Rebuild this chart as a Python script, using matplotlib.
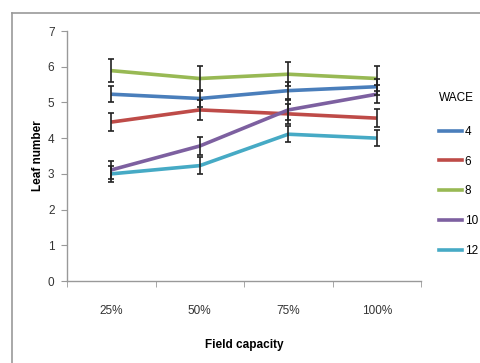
import matplotlib
matplotlib.use("Agg")
import matplotlib.pyplot as plt
from matplotlib.lines import Line2D

categories = ["25%", "50%", "75%", "100%"]
series_names = ["4", "6", "8", "10", "12"]
wace4 = [5.23, 5.11, 5.33, 5.44]
wace6 = [4.45, 4.79, 4.68, 4.56]
wace8 = [5.89, 5.67, 5.79, 5.67]
wace10 = [3.11, 3.78, 4.79, 5.23]
wace12 = [3.00, 3.23, 4.11, 4.00]
err4 = [0.23, 0.24, 0.23, 0.23]
err6 = [0.26, 0.27, 0.27, 0.26]
err8 = [0.33, 0.34, 0.33, 0.34]
err10 = [0.26, 0.26, 0.28, 0.25]
err12 = [0.23, 0.24, 0.23, 0.23]
colors = ["#4A7EBB", "#BE4B48", "#98B954", "#7D60A0", "#46AAC5"]

font = ["Liberation Sans Narrow", "Liberation Sans", "DejaVu Sans"]
plt.rcParams["font.family"] = font

fig = plt.figure(figsize=(4.81, 3.63), dpi=100)
ax = fig.add_axes([67/481, 1-281/363, (421-67)/481, (281-31)/363])

x = list(range(len(categories)))
values = [wace4, wace6, wace8, wace10, wace12]
errs = [err4, err6, err8, err10, err12]
for v, e, c in zip(values, errs, colors):
    ax.plot(x, v, color=c, lw=2.6, solid_capstyle="butt", zorder=2)
for v, e, c in zip(values, errs, colors):
    ax.errorbar(x, v, yerr=e, fmt="none", ecolor="#222222", elinewidth=1.2,
                capsize=2.5, capthick=1.2, zorder=3)

ax.set_xlim(-0.5, 3.5)
ax.set_ylim(0, 7)
ax.set_yticks(range(0, 8))
ax.set_xticks(x)
ax.set_xticklabels(categories)
ax.set_xticks([-0.5, 0.5, 1.5, 2.5, 3.5], minor=True)
ax.tick_params(axis="x", which="major", length=0, pad=17, labelsize=8.5, labelcolor="#333333")
ax.tick_params(axis="x", which="minor", length=4, color="#999999", direction="out")
ax.tick_params(axis="y", length=4, color="#999999", direction="out", pad=5, labelsize=8.5, labelcolor="#333333")
for s in ["top", "right"]:
    ax.spines[s].set_visible(False)
for s in ["left", "bottom"]:
    ax.spines[s].set_color("#999999")
    ax.spines[s].set_linewidth(1.0)

ax.set_xlabel("Field capacity", fontweight="bold", fontsize=8.5, labelpad=16)
ax.set_ylabel("Leaf number", fontweight="bold", fontsize=8.5, labelpad=3)

# legend
handles = [Line2D([0], [0], color=c, lw=2.6) for c in colors]
leg = fig.legend(handles, series_names, title="WACE", loc="upper left",
                 bbox_to_anchor=(428/481, 1-81/363), frameon=False,
                 fontsize=8.5, title_fontsize=8.5, handlelength=2.0,
                 handletextpad=0.2, labelspacing=1.5)
leg._legend_box.align = "left"
leg._legend_box.sep = 16

# outer border (top and left visible)
fig.add_artist(Line2D([12/481, 12/481], [0, 1-13/363], color="#999999", lw=1.2, transform=fig.transFigure))
fig.add_artist(Line2D([12/481, 1], [1-13/363, 1-13/363], color="#999999", lw=1.2, transform=fig.transFigure))

fig.savefig("out.png", dpi=100)
